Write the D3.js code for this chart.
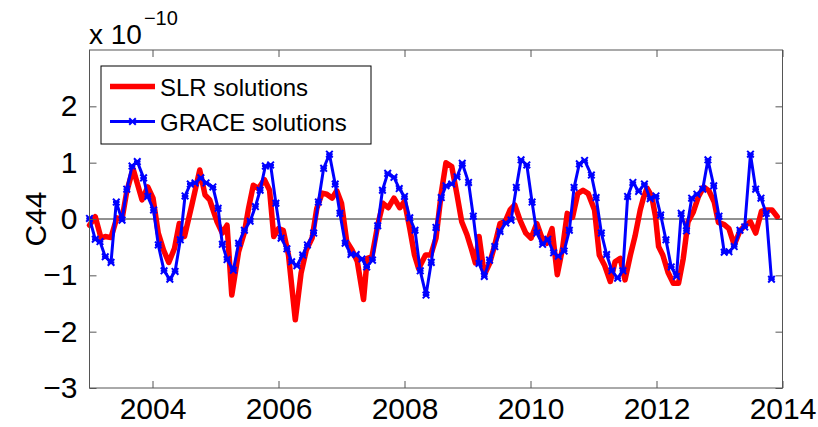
<!DOCTYPE html>
<html>
<head>
<meta charset="utf-8">
<script src="https://cdn.jsdelivr.net/npm/d3@7"></script>
<style>
  html, body { margin: 0; padding: 0; background: #fff; }
  svg { display: block; font-family: "Liberation Sans", Arial, Helvetica, sans-serif; }
</style>
</head>
<body>
<svg id="chart" width="818" height="427"></svg>
<script>
// ---- Data (values in units of 1e-10), time as months since Jan 2003 ----
const graceMonths = [0,1.1,2,3,4.1,5.1,6.2,7.1,8.1,9.1,10.3,11.1,12.2,13.1,14.2,15.3,16.3,17.3,18.2,19.2,20.1,21.2,22.2,23.5,24.5,25.3,26.2,27.4,28.4,29.5,30.6,31.6,32.5,33.5,34.5,35.5,36.5,37.6,38.5,39.5,40.6,41.5,42.7,43.6,44.6,45.7,46.8,47.7,48.7,49.8,50.8,51.9,52.8,53.9,54.9,55.8,56.8,58,59,60,61,62,63,64.1,65.1,66,67,67.9,69,70,71,72.2,73.1,74.2,75.2,76.2,77.2,78.2,79.3,80.3,81.3,82.2,83.3,84.3,85.2,86.3,87.3,88.4,89.3,90.4,91.4,92.3,93.3,94.3,95.6,96.5,97.5,98.5,99.5,100.6,101.6,102.5,103.5,104.6,105.7,106.8,107.9,108.8,109.8,110.8,111.8,112.7,113.7,114.7,115.7,116.8,117.8,118.9,119.9,120.9,121.8,122.8,123.9,124.8,125.9,126.9,127.9,128.9,129.9];
const graceValues = [0.01,-0.36,-0.40,-0.67,-0.77,0.30,-0.02,0.53,0.94,1.02,0.73,0.40,0.16,-0.46,-0.92,-1.07,-0.93,-0.37,0.41,0.62,0.64,0.73,0.64,0.57,0.19,-0.45,-0.72,-0.91,-0.43,-0.20,-0.04,0.22,0.51,0.94,0.96,0.28,-0.34,-0.53,-0.76,-0.83,-0.64,-0.46,-0.25,0.30,0.90,1.15,0.62,0.10,-0.43,-0.63,-0.63,-0.71,-0.85,-0.73,-0.12,0.51,0.81,0.74,0.54,0.40,0.02,-0.20,-0.92,-1.35,-0.77,-0.15,0.38,0.59,0.62,0.75,0.99,0.65,0.05,-0.79,-1.02,-0.73,-0.49,-0.22,-0.07,-0.02,0.56,1.05,0.96,0.30,-0.25,-0.45,-0.36,-0.60,-0.66,-0.57,-0.20,0.56,0.98,1.04,0.78,0.38,-0.25,-0.63,-0.92,-1.05,-0.92,0.40,0.65,0.49,0.62,0.36,0.41,0.07,-0.37,-0.85,-1.02,0.10,-0.21,0.37,0.44,0.53,1.05,0.59,0.05,-0.59,-0.58,-0.49,-0.20,-0.14,1.15,0.53,0.37,0.10,-1.07];

const slrMonths = [0,1.1,2.2,3,4.1,5.2,6.2,7.1,8.3,10,11.1,12.1,13.1,14.1,15.1,16.2,17.1,18.1,19.5,21,22,22.9,24.3,25.3,26.2,27.1,28.4,29.5,30.3,31.2,32.2,33.3,34.3,35.1,36,36.9,37.9,39.2,40.3,41.3,42.4,43.3,44.3,45.2,46.2,47.1,48,49,50,51,52.2,52.9,53.8,54.9,55.9,56.9,58,59.1,60,61,61.9,62.7,64,65,66,67,67.9,69,70,70.9,71.9,72.8,73.5,74.2,75.2,76.2,77.2,78.2,79.2,80.1,81,82,83.1,84.1,85.2,86.2,87.1,88.1,89.1,90.1,91,92,93,94,95,96.2,97.1,98.1,99.2,100.1,101.1,102,103,103.9,104.9,105.5,106.2,107.1,107.8,108.4,109.2,110.2,111.2,112.2,113.1,114,115,116,117,118,119,119.8,120.9,121.8,122.8,123.9,124.9,125.9,126.9,128,129,130,131];
const slrValues = [-0.11,0.04,-0.34,-0.31,-0.33,0.02,0.0,0.49,0.89,0.34,0.57,0.37,-0.25,-0.55,-0.77,-0.52,-0.08,-0.31,0.25,0.87,0.43,0.34,-0.05,-0.25,-0.11,-1.35,-0.58,-0.24,0.19,0.60,0.54,0.70,0.51,-0.31,-0.17,-0.20,-0.64,-1.79,-0.96,-0.55,-0.34,0.19,0.46,0.44,0.37,0.50,0.28,-0.40,-0.55,-0.75,-1.43,-0.70,-0.67,-0.11,0.28,0.20,0.37,0.20,0.31,-0.17,-0.64,-0.88,-0.64,-0.64,-0.34,0.46,1.00,0.93,0.43,-0.05,-0.28,-0.55,-0.78,-0.31,-0.99,-0.79,-0.46,-0.08,-0.04,0.16,0.25,-0.02,-0.25,-0.34,-0.08,-0.34,-0.43,-0.17,-0.99,-0.52,0.10,0.03,0.45,0.51,0.45,0.16,-0.64,-0.82,-1.11,-0.76,-0.70,-1.08,-0.65,-0.31,0.16,0.37,0.55,0.40,0.05,-0.49,-0.64,-0.95,-1.14,-1.14,-0.70,-0.05,0.12,0.40,0.57,0.50,0.30,-0.06,-0.10,-0.17,-0.46,-0.21,-0.11,-0.05,-0.25,0.14,0.16,0.16,0.04];

const xTickYears = [2004, 2006, 2008, 2010, 2012, 2014];
const yTickValues = [-3, -2, -1, 0, 1, 2];
const seriesNames = ["SLR solutions", "GRACE solutions"];
const seriesColors = ["#ff0000", "#0000ff"];

// ---- Layout ----
const svg = d3.select("#chart");
const L = 89.5, R = 782.5, T = 50, B = 388;
const x = d3.scaleLinear().domain([2003, 2014]).range([L, R]);
const y = d3.scaleLinear().domain([-3, 3]).range([B, T]);
const toYear = m => 2003 + m / 12;

const grace = graceMonths.map((m, i) => ({ t: toYear(m), v: graceValues[i] }));
const slr = slrMonths.map((m, i) => ({ t: toYear(m), v: slrValues[i] }));

const axisColor = "#555";
const tickLen = 7;

// zero line
svg.append("line")
  .attr("x1", L).attr("x2", R).attr("y1", y(0)).attr("y2", y(0))
  .attr("stroke", "#222").attr("stroke-width", 1);

// lines
const line = d3.line().x(d => x(d.t)).y(d => y(d.v));
svg.append("path").datum(slr)
  .attr("d", line).attr("fill", "none")
  .attr("stroke", seriesColors[0]).attr("stroke-width", 5.5)
  .attr("stroke-linejoin", "round").attr("stroke-linecap", "round");
svg.append("path").datum(grace)
  .attr("d", line).attr("fill", "none")
  .attr("stroke", seriesColors[1]).attr("stroke-width", 3)
  .attr("stroke-linejoin", "round");

function xMarker(sel, size) {
  sel.append("path")
    .attr("d", `M${-size},${-size}L${size},${size}M${-size},${size}L${size},${-size}M${-size},0L${size},0`)
    .attr("stroke", seriesColors[1]).attr("stroke-width", 2).attr("fill", "none");
}
svg.append("g").selectAll("g").data(grace).join("g")
  .attr("transform", d => `translate(${x(d.t)},${y(d.v)})`)
  .call(g => xMarker(g, 3.3));

// axes box
svg.append("rect").attr("x", L).attr("y", T).attr("width", R - L).attr("height", B - T)
  .attr("fill", "none").attr("stroke", axisColor).attr("stroke-width", 1);

// x ticks (bottom and top, inward)
const xAxisB = d3.axisBottom(x).tickValues(xTickYears).tickFormat(d3.format("d")).tickSizeInner(-tickLen).tickSizeOuter(0).tickPadding(10);
const gxb = svg.append("g").attr("transform", `translate(0,${B})`).call(xAxisB);
const xAxisT = d3.axisTop(x).tickValues(xTickYears).tickFormat("").tickSizeInner(-tickLen).tickSizeOuter(0);
const gxt = svg.append("g").attr("transform", `translate(0,${T})`).call(xAxisT);

// y ticks (left and right, inward)
const yAxisL = d3.axisLeft(y).tickValues(yTickValues).tickFormat(d => d < 0 ? "\u2212" + Math.abs(d) : d).tickSizeInner(-tickLen).tickSizeOuter(0).tickPadding(12);
const gyl = svg.append("g").attr("transform", `translate(${L},0)`).call(yAxisL);
const yAxisR = d3.axisRight(y).tickValues(yTickValues).tickFormat("").tickSizeInner(-tickLen).tickSizeOuter(0);
const gyr = svg.append("g").attr("transform", `translate(${R},0)`).call(yAxisR);

[gxb, gxt, gyl, gyr].forEach(g => {
  g.select(".domain").remove();
  g.selectAll(".tick line").attr("stroke", axisColor);
  g.selectAll("text").attr("fill", "#000").attr("font-size", 30)
    .attr("font-family", "'Liberation Sans', Arial, sans-serif");
});
gxb.selectAll("text").attr("dy", "0.71em");

// y label
svg.append("text")
  .attr("transform", `translate(46,${y(0)}) rotate(-90)`)
  .attr("text-anchor", "middle")
  .attr("font-size", 30).attr("fill", "#000")
  .text("C44");

// exponent label
const ex = svg.append("text").attr("x", 89).attr("y", 44).attr("font-size", 28).attr("fill", "#000");
ex.append("tspan").text("x 10");
ex.append("tspan").attr("font-size", 20).attr("dy", -19).attr("dx", 2).text("\u221210");

// legend
const lg = svg.append("g");
lg.append("rect").attr("x", 101).attr("y", 66).attr("width", 270).attr("height", 78)
  .attr("fill", "#fff").attr("stroke", "#000").attr("stroke-width", 1);
const legY = [86.5, 121.5];
lg.append("line").attr("x1", 110).attr("x2", 155).attr("y1", legY[0]).attr("y2", legY[0])
  .attr("stroke", seriesColors[0]).attr("stroke-width", 5.5);
lg.append("line").attr("x1", 110).attr("x2", 155).attr("y1", legY[1]).attr("y2", legY[1])
  .attr("stroke", seriesColors[1]).attr("stroke-width", 3);
lg.append("g").attr("transform", `translate(132.5,${legY[1]})`).call(g => xMarker(g, 3.3));
seriesNames.forEach((n, i) => {
  lg.append("text").attr("x", 160).attr("y", legY[i] + 9).attr("font-size", 24)
    .attr("fill", "#000").text(n);
});
</script>
</body>
</html>
